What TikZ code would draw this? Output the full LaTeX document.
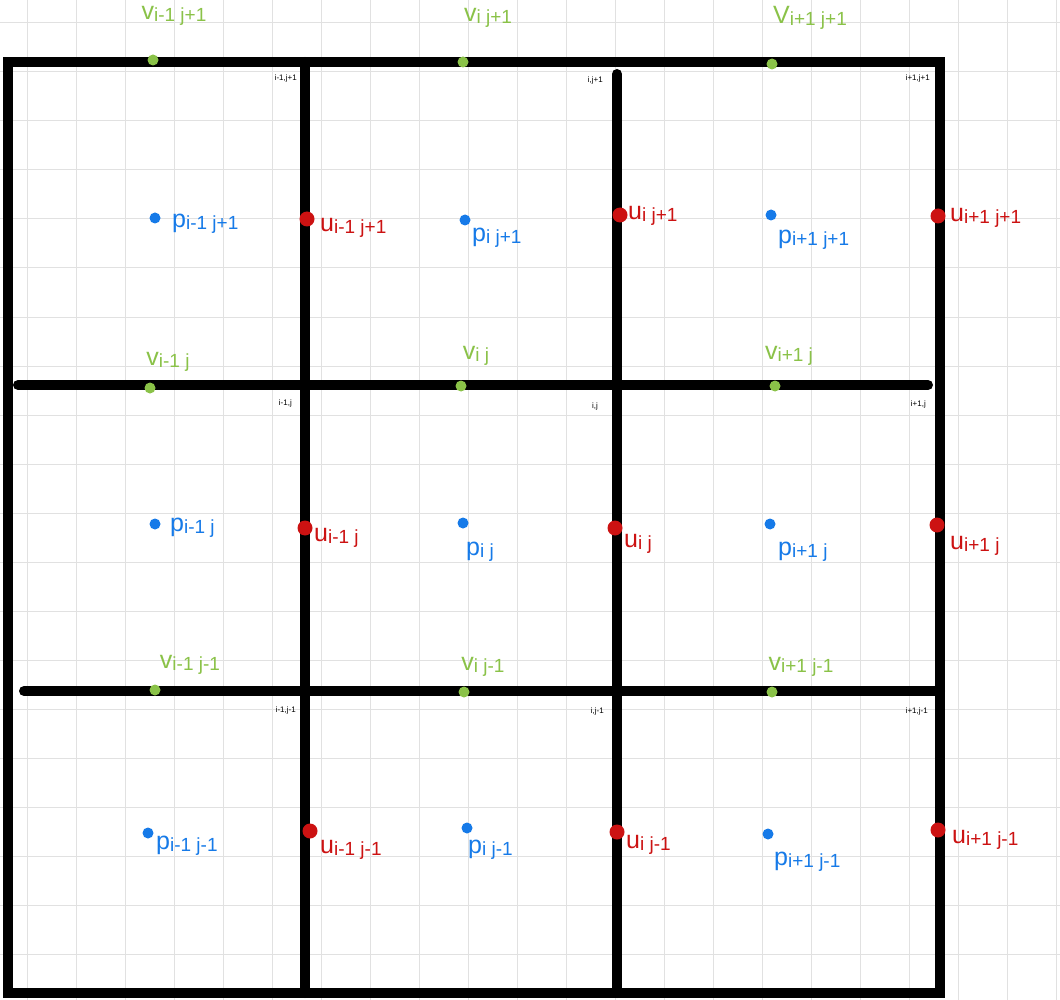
\documentclass[tikz,border=0pt]{standalone}
\usepackage{fontspec}
\setmainfont{Liberation Sans}
\definecolor{vgreen}{RGB}{138,194,72}
\definecolor{pblue}{RGB}{22,122,232}
\definecolor{ured}{RGB}{204,18,18}
\definecolor{gridgray}{RGB}{225,225,225}
\newcommand\lb[2]{{\fontsize{25}{27}\selectfont #1}\raisebox{-0.35ex}{\fontsize{19}{21}\selectfont #2}}
\begin{document}
\begin{tikzpicture}[x=1pt,y=-1pt,
  wall/.style={line width=10pt,line cap=round,black},
  vdot/.style={circle,fill=vgreen,inner sep=0pt,minimum size=11pt},
  pdot/.style={circle,fill=pblue,inner sep=0pt,minimum size=11pt},
  udot/.style={circle,fill=ured,inner sep=0pt,minimum size=15pt},
  vlab/.style={text=vgreen,inner sep=0pt},
  plab/.style={text=pblue,inner sep=0pt,anchor=west},
  ulab/.style={text=ured,inner sep=0pt,anchor=west},
  clab/.style={font=\fontsize{8}{9}\selectfont,inner sep=0pt,anchor=east}]
\useasboundingbox (0,0) rectangle (1060,1000);
\fill[white] (0,0) rectangle (1060,1000);
% background grid
\foreach \k in {0,...,21} {
  \draw[gridgray,line width=1pt] ({27+49*\k},0) -- ({27+49*\k},1000);
  \draw[gridgray,line width=1pt] (0,{23+49*\k}) -- (1060,{23+49*\k});
}
% walls
\draw[wall] (8,62) -- (940,62) -- (940,993) -- (8,993) -- cycle;
\draw[wall] (305,62) -- (305,993);
\draw[wall] (617,74) -- (617,993);
\draw[wall] (18,385) -- (928,385);
\draw[wall] (24,691) -- (940,691);
% v nodes
\node[vdot] (v11) at (153,60) {};
\node[vdot] (v21) at (463,62) {};
\node[vdot] (v31) at (772,64) {};
\node[vdot] (v12) at (150,388) {};
\node[vdot] (v22) at (461,386) {};
\node[vdot] (v32) at (775,386) {};
\node[vdot] (v13) at (155,690) {};
\node[vdot] (v23) at (464,692) {};
\node[vdot] (v33) at (772,692) {};
\node[vlab] (lv11) at (174,16) {\lb{v}{i-1 j+1}};
\node[vlab] (lv21) at (488,18) {\lb{v}{i j+1}};
\node[vlab] (lv31) at (810,18) {\lb{V}{i+1 j+1}};
\node[vlab] (lv12) at (168,362) {\lb{v}{i-1 j}};
\node[vlab] (lv22) at (476,356) {\lb{v}{i j}};
\node[vlab] (lv32) at (789,356) {\lb{v}{i+1 j}};
\node[vlab] (lv13) at (190,665) {\lb{v}{i-1 j-1}};
\node[vlab] (lv23) at (483,667) {\lb{v}{i j-1}};
\node[vlab] (lv33) at (801,667) {\lb{v}{i+1 j-1}};
% p nodes
\node[pdot] (p11) at (155,218) {};
\node[pdot] (p21) at (465,220) {};
\node[pdot] (p31) at (771,215) {};
\node[pdot] (p12) at (155,524) {};
\node[pdot] (p22) at (463,523) {};
\node[pdot] (p32) at (770,524) {};
\node[pdot] (p13) at (148,833) {};
\node[pdot] (p23) at (467,828) {};
\node[pdot] (p33) at (768,834) {};
\node[plab] (lp11) at (172,224) {\lb{p}{i-1 j+1}};
\node[plab] (lp21) at (472,238) {\lb{p}{i j+1}};
\node[plab] (lp31) at (778,240) {\lb{p}{i+1 j+1}};
\node[plab] (lp12) at (170,528) {\lb{p}{i-1 j}};
\node[plab] (lp22) at (466,552) {\lb{p}{i j}};
\node[plab] (lp32) at (778,552) {\lb{p}{i+1 j}};
\node[plab] (lp13) at (156,846) {\lb{p}{i-1 j-1}};
\node[plab] (lp23) at (468,850) {\lb{p}{i j-1}};
\node[plab] (lp33) at (774,862) {\lb{p}{i+1 j-1}};
% u nodes
\node[udot] (u11) at (307,219) {};
\node[udot] (u21) at (620,215) {};
\node[udot] (u31) at (938,216) {};
\node[udot] (u12) at (305,528) {};
\node[udot] (u22) at (615,528) {};
\node[udot] (u32) at (937,525) {};
\node[udot] (u13) at (310,831) {};
\node[udot] (u23) at (617,832) {};
\node[udot] (u33) at (938,830) {};
\node[ulab] (lu11) at (320,228) {\lb{u}{i-1 j+1}};
\node[ulab] (lu21) at (628,216) {\lb{u}{i j+1}};
\node[ulab] (lu31) at (950,218) {\lb{u}{i+1 j+1}};
\node[ulab] (lu12) at (314,538) {\lb{u}{i-1 j}};
\node[ulab] (lu22) at (624,544) {\lb{u}{i j}};
\node[ulab] (lu32) at (950,546) {\lb{u}{i+1 j}};
\node[ulab] (lu13) at (320,850) {\lb{u}{i-1 j-1}};
\node[ulab] (lu23) at (626,845) {\lb{u}{i j-1}};
\node[ulab] (lu33) at (952,840) {\lb{u}{i+1 j-1}};
% cell corner labels
\node[clab] (c11) at (297,78) {i-1,j+1};
\node[clab] (c21) at (603,80) {i,j+1};
\node[clab] (c31) at (930,78) {i+1,j+1};
\node[clab] (c12) at (292,403) {i-1,j};
\node[clab] (c22) at (598,406) {i,j};
\node[clab] (c32) at (926,404) {i+1,j};
\node[clab] (c13) at (296,710) {i-1,j-1};
\node[clab] (c23) at (604,711) {i,j-1};
\node[clab] (c33) at (928,711) {i+1,j-1};
\end{tikzpicture}
\end{document}
